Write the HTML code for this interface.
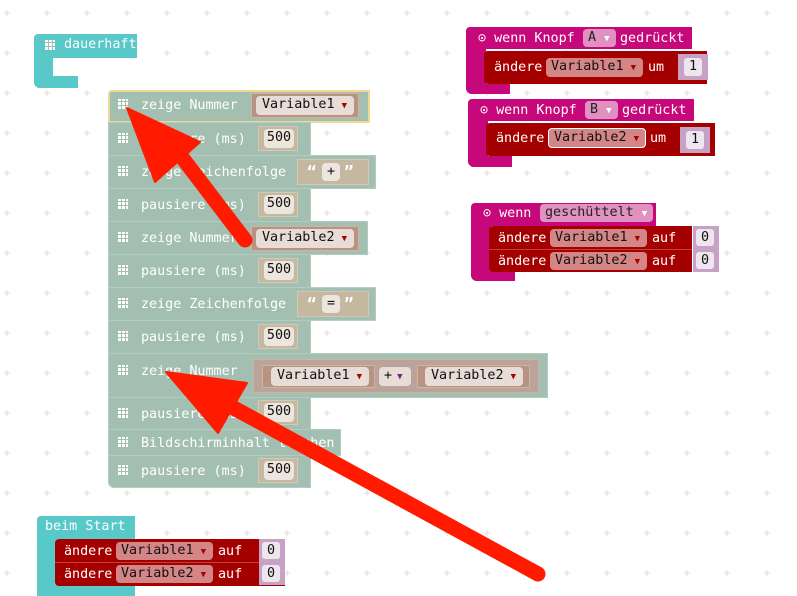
<!DOCTYPE html>
<html><head><meta charset="utf-8"><style>
*{box-sizing:border-box}
html,body{margin:0;padding:0}
body{width:797px;height:596px;position:relative;overflow:hidden;background:#fff;font-family:"DejaVu Sans Mono","Liberation Mono",monospace;font-size:13.4px}
.a{position:absolute}
.g{background:#a3bfb1;border:1px solid #b4cbbf}
.t{position:absolute;color:#fff;white-space:nowrap;line-height:16px;margin-top:2px}
.ic{position:absolute;width:10px;height:10px;background:
linear-gradient(90deg,transparent 3px,#a3bfb1 3px,#a3bfb1 4px,transparent 4px,transparent 7px,#a3bfb1 7px,#a3bfb1 8px,transparent 8px),
linear-gradient(0deg,transparent 3px,#a3bfb1 3px,#a3bfb1 4px,transparent 4px,transparent 7px,#a3bfb1 7px,#a3bfb1 8px,transparent 8px),#fff}
.num{position:absolute;background:#c4b9a0;border:1px solid #d3c9b4}
.nf{position:absolute;background:#ece6de;border-radius:4px;color:#111;text-align:center;line-height:18px}
.vb{position:absolute;background:#b89283;border:1px solid #d0b59a}
.vf{position:absolute;background:#e8dcd6;border-radius:4px;color:#111;line-height:18px;padding-left:6px;white-space:nowrap}
.dd{color:#a00;font-size:9px;margin-left:7px}
.pk{background:#c6087a}
.rd{background:#a50000}
.pf{position:absolute;background:#e091c0;border-radius:4px;color:#222;line-height:18px;padding-left:5px;white-space:nowrap}
.rf{position:absolute;background:#d48686;border-radius:4px;color:#111;line-height:18px;padding-left:5px;white-space:nowrap}
.pu{position:absolute;background:#c7a2c6}
.pw{position:absolute;background:#eee6ee;border-radius:3px;color:#111;text-align:center;line-height:17px}
.tl{background:#58c8c8}
</style></head><body>
<svg class="a" style="left:0;top:0" width="797" height="596">
<defs><path id="p" d="M-3 0H3M0 -3V3" stroke="#dcdcdc" stroke-width="1"/></defs>
<g id="row">
<use href="#p" x="7" y="13"/><use href="#p" x="47" y="13"/><use href="#p" x="87" y="13"/><use href="#p" x="127" y="13"/><use href="#p" x="167" y="13"/><use href="#p" x="207" y="13"/><use href="#p" x="247" y="13"/><use href="#p" x="287" y="13"/><use href="#p" x="327" y="13"/><use href="#p" x="367" y="13"/><use href="#p" x="407" y="13"/><use href="#p" x="447" y="13"/><use href="#p" x="487" y="13"/><use href="#p" x="527" y="13"/><use href="#p" x="567" y="13"/><use href="#p" x="607" y="13"/><use href="#p" x="647" y="13"/><use href="#p" x="687" y="13"/><use href="#p" x="727" y="13"/><use href="#p" x="767" y="13"/>
</g>
<use href="#row" y="40"/><use href="#row" y="80"/><use href="#row" y="120"/><use href="#row" y="160"/><use href="#row" y="200"/><use href="#row" y="240"/><use href="#row" y="280"/><use href="#row" y="320"/><use href="#row" y="360"/><use href="#row" y="400"/><use href="#row" y="440"/><use href="#row" y="480"/><use href="#row" y="520"/><use href="#row" y="560"/>
</svg>

<!-- dauerhaft -->
<div class="a tl" style="left:34px;top:34px;width:103px;height:24px;border-radius:4px 0 0 0"></div>
<div class="a tl" style="left:34px;top:56px;width:19px;height:32px;border-radius:0 0 0 6px"></div>
<div class="a tl" style="left:34px;top:76px;width:44px;height:12px;border-radius:0 0 0 6px"></div>
<div class="ic" style="left:45px;top:40px;background-color:#fff"></div>
<div class="t" style="left:64px;top:35px">dauerhaft</div>

<!-- main stack -->
<div class="a g" style="left:108px;top:90px;width:262px;height:33px;border:2px solid #f0d890;border-radius:4px 0 0 0"></div>
<div class="a g" style="left:108px;top:122px;width:203px;height:34px"></div>
<div class="a g" style="left:108px;top:155px;width:268px;height:34px"></div>
<div class="a g" style="left:108px;top:188px;width:203px;height:34px"></div>
<div class="a g" style="left:108px;top:221px;width:260px;height:34px"></div>
<div class="a g" style="left:108px;top:254px;width:203px;height:34px"></div>
<div class="a g" style="left:108px;top:287px;width:268px;height:34px"></div>
<div class="a g" style="left:108px;top:320px;width:203px;height:34px"></div>
<div class="a g" style="left:108px;top:353px;width:440px;height:45px"></div>
<div class="a g" style="left:108px;top:397px;width:203px;height:33px"></div>
<div class="a g" style="left:108px;top:429px;width:233px;height:27px"></div>
<div class="a g" style="left:108px;top:455px;width:203px;height:33px;border-radius:0 0 0 6px"></div>

<div class="ic" style="left:118px;top:99px"></div><div class="t" style="left:141px;top:96px">zeige Nummer</div>
<div class="ic" style="left:118px;top:133px"></div><div class="t" style="left:141px;top:130px">pausiere (ms)</div>
<div class="ic" style="left:118px;top:166px"></div><div class="t" style="left:141px;top:163px">zeige Zeichenfolge</div>
<div class="ic" style="left:118px;top:199px"></div><div class="t" style="left:141px;top:196px">pausiere (ms)</div>
<div class="ic" style="left:118px;top:232px"></div><div class="t" style="left:141px;top:229px">zeige Nummer</div>
<div class="ic" style="left:118px;top:265px"></div><div class="t" style="left:141px;top:262px">pausiere (ms)</div>
<div class="ic" style="left:118px;top:298px"></div><div class="t" style="left:141px;top:295px">zeige Zeichenfolge</div>
<div class="ic" style="left:118px;top:331px"></div><div class="t" style="left:141px;top:328px">pausiere (ms)</div>
<div class="ic" style="left:118px;top:365px"></div><div class="t" style="left:141px;top:362px">zeige Nummer</div>
<div class="ic" style="left:118px;top:408px"></div><div class="t" style="left:141px;top:405px">pausiere (ms)</div>
<div class="ic" style="left:118px;top:437px"></div><div class="t" style="left:141px;top:434px">Bildschirminhalt löschen</div>
<div class="ic" style="left:118px;top:465px"></div><div class="t" style="left:141px;top:462px">pausiere (ms)</div>

<!-- variable fields -->
<div class="vb" style="left:251px;top:93px;width:108px;height:25px"></div>
<div class="vf" style="left:256px;top:96px;width:98px;height:19px">Variable1<span class="dd">▼</span></div>
<div class="vb" style="left:251px;top:226px;width:108px;height:25px"></div>
<div class="vf" style="left:256px;top:229px;width:98px;height:19px">Variable2<span class="dd">▼</span></div>

<!-- 500s -->
<div class="num" style="left:258px;top:126px;width:40px;height:25px"></div><div class="nf" style="left:264px;top:129px;width:30px;height:19px">500</div>
<div class="num" style="left:258px;top:192px;width:40px;height:25px"></div><div class="nf" style="left:264px;top:195px;width:30px;height:19px">500</div>
<div class="num" style="left:258px;top:258px;width:40px;height:25px"></div><div class="nf" style="left:264px;top:261px;width:30px;height:19px">500</div>
<div class="num" style="left:258px;top:324px;width:40px;height:25px"></div><div class="nf" style="left:264px;top:327px;width:30px;height:19px">500</div>
<div class="num" style="left:258px;top:400px;width:40px;height:25px"></div><div class="nf" style="left:264px;top:403px;width:30px;height:19px">500</div>
<div class="num" style="left:258px;top:458px;width:40px;height:25px"></div><div class="nf" style="left:264px;top:461px;width:30px;height:19px">500</div>

<!-- strings -->
<div class="num" style="left:297px;top:159px;width:72px;height:26px"></div>
<div class="t" style="left:307px;top:162px;font-weight:bold;font-size:16px">“</div><div class="nf" style="left:322px;top:163px;width:18px;height:18px">+</div><div class="t" style="left:344px;top:162px;font-weight:bold;font-size:16px">”</div>
<div class="num" style="left:297px;top:291px;width:72px;height:26px"></div>
<div class="t" style="left:307px;top:294px;font-weight:bold;font-size:16px">“</div><div class="nf" style="left:322px;top:295px;width:18px;height:18px">=</div><div class="t" style="left:344px;top:294px;font-weight:bold;font-size:16px">”</div>

<!-- math block -->
<div class="vb" style="left:253px;top:359px;width:286px;height:34px;background:#b9a39b"></div>
<div class="vb" style="left:262px;top:365px;width:113px;height:23px"></div>
<div class="vf" style="left:271px;top:367px;width:98px;height:19px">Variable1<span class="dd">▼</span></div>
<div class="vf" style="left:379px;top:367px;width:32px;height:19px;padding-left:5px">+<span class="dd" style="color:#6a2a80;margin-left:5px">▼</span></div>
<div class="vb" style="left:417px;top:365px;width:113px;height:23px"></div>
<div class="vf" style="left:425px;top:367px;width:98px;height:19px">Variable2<span class="dd">▼</span></div>

<!-- Knopf A -->
<div class="a pk" style="left:466px;top:27px;width:226px;height:22px;border-radius:4px 0 0 0"></div>
<div class="a pk" style="left:466px;top:47px;width:20px;height:47px;border-radius:0 0 0 6px"></div>
<div class="a pk" style="left:466px;top:84px;width:44px;height:10px;border-radius:0 0 0 6px"></div>
<div class="a rd" style="left:484px;top:51px;width:223px;height:33px;border-radius:4px 0 0 4px"></div>
<div class="t" style="left:478px;top:29px">⊙ wenn Knopf</div>
<div class="pf" style="left:583px;top:29px;width:33px;height:18px">A <span style="font-size:9px;color:#fff">▼</span></div>
<div class="t" style="left:620px;top:29px">gedrückt</div>
<div class="t" style="left:494px;top:58px">ändere</div>
<div class="rf" style="left:546px;top:58px;width:97px;height:19px">Variable1<span class="dd">▼</span></div>
<div class="t" style="left:648px;top:58px">um</div>
<div class="pu" style="left:678px;top:54px;width:30px;height:26px"></div><div class="pw" style="left:684px;top:58px;width:18px;height:18px">1</div>

<!-- Knopf B -->
<div class="a pk" style="left:468px;top:99px;width:226px;height:22px;border-radius:4px 0 0 0"></div>
<div class="a pk" style="left:468px;top:119px;width:20px;height:48px;border-radius:0 0 0 6px"></div>
<div class="a pk" style="left:468px;top:156px;width:44px;height:11px;border-radius:0 0 0 6px"></div>
<div class="a rd" style="left:486px;top:123px;width:229px;height:33px;border-radius:4px 0 0 4px"></div>
<div class="t" style="left:480px;top:101px">⊙ wenn Knopf</div>
<div class="pf" style="left:585px;top:101px;width:33px;height:18px">B <span style="font-size:9px;color:#fff">▼</span></div>
<div class="t" style="left:622px;top:101px">gedrückt</div>
<div class="t" style="left:496px;top:129px">ändere</div>
<div class="rf" style="left:548px;top:128px;width:98px;height:20px;border:1px solid #fff">Variable2<span class="dd">▼</span></div>
<div class="t" style="left:650px;top:129px">um</div>
<div class="pu" style="left:680px;top:127px;width:30px;height:26px"></div><div class="pw" style="left:686px;top:131px;width:18px;height:18px">1</div>

<!-- geschüttelt -->
<div class="a pk" style="left:471px;top:203px;width:185px;height:23px;border-radius:4px 0 0 0"></div>
<div class="a pk" style="left:471px;top:224px;width:20px;height:57px;border-radius:0 0 0 6px"></div>
<div class="a pk" style="left:471px;top:271px;width:44px;height:10px;border-radius:0 0 0 6px"></div>
<div class="a rd" style="left:489px;top:226px;width:203px;height:46px;border-radius:4px 0 0 4px"></div>
<div class="a" style="left:489px;top:249px;width:203px;height:1px;background:#c04040"></div>
<div class="t" style="left:483px;top:204px">⊙ wenn</div>
<div class="pf" style="left:540px;top:204px;width:113px;height:18px">geschüttelt <span style="font-size:9px;color:#fff">▼</span></div>
<div class="t" style="left:498px;top:229px">ändere</div>
<div class="rf" style="left:550px;top:229px;width:97px;height:18px">Variable1<span class="dd">▼</span></div>
<div class="t" style="left:652px;top:229px">auf</div>
<div class="pu" style="left:693px;top:226px;width:26px;height:23px"></div><div class="pw" style="left:696px;top:229px;width:18px;height:17px">0</div>
<div class="t" style="left:498px;top:252px">ändere</div>
<div class="rf" style="left:550px;top:252px;width:97px;height:18px">Variable2<span class="dd">▼</span></div>
<div class="t" style="left:652px;top:252px">auf</div>
<div class="pu" style="left:693px;top:249px;width:26px;height:23px"></div><div class="pw" style="left:696px;top:252px;width:18px;height:17px">0</div>

<!-- beim Start -->
<div class="a tl" style="left:37px;top:516px;width:98px;height:23px;border-radius:4px 0 0 0"></div>
<div class="a tl" style="left:37px;top:537px;width:20px;height:59px"></div>
<div class="a tl" style="left:37px;top:584px;width:98px;height:12px"></div>
<div class="t" style="left:45px;top:517px">beim Start</div>
<div class="a rd" style="left:55px;top:539px;width:230px;height:47px;border-radius:4px 0 0 4px"></div>
<div class="a" style="left:55px;top:562px;width:230px;height:1px;background:#c04040"></div>
<div class="t" style="left:64px;top:542px">ändere</div>
<div class="rf" style="left:116px;top:542px;width:97px;height:18px">Variable1<span class="dd">▼</span></div>
<div class="t" style="left:218px;top:542px">auf</div>
<div class="pu" style="left:259px;top:539px;width:26px;height:23px"></div><div class="pw" style="left:262px;top:542px;width:18px;height:17px">0</div>
<div class="t" style="left:64px;top:565px">ändere</div>
<div class="rf" style="left:116px;top:565px;width:97px;height:18px">Variable2<span class="dd">▼</span></div>
<div class="t" style="left:218px;top:565px">auf</div>
<div class="pu" style="left:259px;top:562px;width:26px;height:23px"></div><div class="pw" style="left:262px;top:565px;width:18px;height:17px">0</div>

<!-- arrows -->
<svg class="a" style="left:0;top:0" width="797" height="596">
<g fill="#ff1a00" stroke="#ff1a00">
<line x1="245" y1="240" x2="165" y2="135" stroke-width="15" stroke-linecap="round"/>
<polygon points="127,108 155,182 200,142" stroke-width="2" stroke-linejoin="round"/>
<line x1="538" y1="574" x2="210" y2="395" stroke-width="15" stroke-linecap="round"/>
<polygon points="166,372 218,433 247,383" stroke-width="2" stroke-linejoin="round"/>
</g>
</svg>
</body></html>
